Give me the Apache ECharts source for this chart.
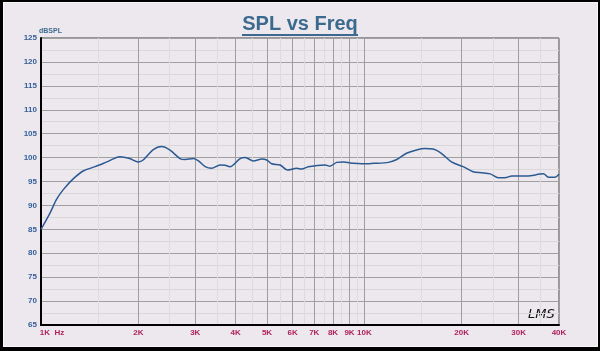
<!DOCTYPE html>
<html>
<head>
<meta charset="utf-8">
<script src="https://cdn.jsdelivr.net/npm/echarts@6/dist/echarts.min.js"></script>
<style>
  html, body { margin: 0; padding: 0; background: #000; }
  #frame { position: absolute; left: 3px; top: 2px; width: 593px; height: 343px; background: #ede8ee; border: 1px solid #f9f7f9; }
  #chart { position: absolute; left: 0; top: 0; width: 600px; height: 351px; }
</style>
</head>
<body>
<div id="frame"></div>
<div id="chart"></div>
<script>
// frequency (Hz) and level (dBSPL)
var freqs = [1000, 1066, 1118, 1172, 1260, 1350, 1470, 1600, 1755, 1880,
  2000, 2070, 2220, 2360, 2500, 2690, 2790, 2960, 3070, 3220,
  3370, 3580, 3710, 3840, 4130, 4280, 4540, 4820, 4990, 5170,
  5490, 5780, 6180, 6400, 6710, 7560, 7830, 8210, 8610, 9250,
  9820, 10660, 11870, 12600, 13500, 14500, 15400, 16300, 17300, 18600,
  20200, 21700, 23100, 24500, 26000, 27200, 28600, 31800, 35800, 37100,
  38900, 40000];
var spl = [85.0, 88.4, 91.3, 93.3, 95.6, 97.2, 98.1, 99.1, 100.2, 99.8,
  99.1, 99.5, 101.6, 102.3, 101.6, 99.8, 99.6, 99.8, 99.3, 98.1,
  97.75, 98.45, 98.4, 98.1, 99.8, 100.0, 99.3, 99.7, 99.5, 98.7,
  98.45, 97.4, 97.75, 97.6, 98.1, 98.45, 98.2, 99.0, 99.1, 98.8,
  98.7, 98.8, 99.0, 99.6, 100.9, 101.6, 101.9, 101.8, 100.9, 99.1,
  98.1, 97.05, 96.85, 96.6, 95.8, 95.8, 96.15, 96.15, 96.6, 95.9,
  95.9, 96.5];

var majorTicks = [1000, 2000, 3000, 4000, 5000, 6000, 7000, 8000, 9000, 10000, 20000, 30000, 40000];
var minorTicks = [1500, 2500, 3500, 4500, 5500, 6500, 7500, 8500, 9500, 15000, 25000, 35000];

var lineData = [];
for (var i = 0; i < freqs.length; i++) {
  lineData.push([freqs[i], spl[i]]);
}

var chart = echarts.init(document.getElementById('chart'));
var option = {
  backgroundColor: 'transparent',
  animation: false,
  title: {
    text: 'SPL vs Freq',
    left: 'center',
    top: 9,
    textStyle: { color: '#3b6a8e', fontSize: 20, fontWeight: 'bold', fontFamily: 'Liberation Sans' }
  },
  grid: { left: 41, right: 41, top: 38, bottom: 26, show: true, borderColor: '#444', borderWidth: 1 },
  xAxis: [{
    type: 'log',
    logBase: 10,
    min: 1000,
    max: 40000,
    axisLine: { show: true, lineStyle: { color: '#000', width: 2 } },
    axisTick: { show: false, customValues: majorTicks },
    axisLabel: {
      customValues: majorTicks,
      color: '#b0215e',
      fontSize: 8,
      fontWeight: 'bold',
      fontFamily: 'Liberation Sans',
      margin: 4,
      formatter: function (v) {
        if (v === 1000) return '{a|1K  Hz}';
        return (v / 1000) + 'K';
      },
      rich: { a: { color: '#b0215e', fontSize: 8, fontWeight: 'bold', fontFamily: 'Liberation Sans', padding: [0, 0, 0, 22] } }
    },
    splitLine: { show: true, lineStyle: { color: '#9e9e9e', width: 1 } }
  }, {
    type: 'log',
    logBase: 10,
    min: 1000,
    max: 40000,
    axisLine: { show: false },
    axisTick: { show: false, customValues: minorTicks },
    axisLabel: { show: false },
    splitLine: { show: true, lineStyle: { color: '#dcdcdc', width: 1 } }
  }],
  yAxis: {
    type: 'value',
    min: 65,
    max: 125,
    interval: 5,
    name: 'dBSPL',
    nameLocation: 'end',
    nameGap: 2,
    nameTextStyle: { color: '#3b6a8e', fontSize: 7, fontWeight: 'bold', fontFamily: 'Liberation Sans', align: 'left', padding: [0, 0, 0, -2] },
    axisLine: { show: true, lineStyle: { color: '#000', width: 2 } },
    axisTick: { show: false },
    minorTick: { show: false, splitNumber: 2 },
    axisLabel: { color: '#35609a', fontSize: 8, fontWeight: 'bold', fontFamily: 'Liberation Sans', margin: 4 },
    splitLine: { show: true, lineStyle: { color: '#a0a0a0', width: 1 } },
    minorSplitLine: { show: true, lineStyle: { color: '#d8d8d8', width: 1 } }
  },
  graphic: [{
    type: 'line',
    shape: { x1: 242, y1: 35, x2: 358, y2: 35 },
    style: { stroke: '#3b6a8e', lineWidth: 2 }
  }, {
    type: 'text',
    left: 528,
    top: 308,
    style: { text: 'LMS', fill: '#111', font: 'italic 13px "DejaVu Sans"' }
  }],
  series: [{
    name: 'SPL',
    type: 'line',
    xAxisIndex: 0,
    data: lineData,
    smooth: 0.3,
    showSymbol: false,
    lineStyle: { color: '#2b5a92', width: 1.5 }
  }]
};
chart.setOption(option);
</script>
</body>
</html>
